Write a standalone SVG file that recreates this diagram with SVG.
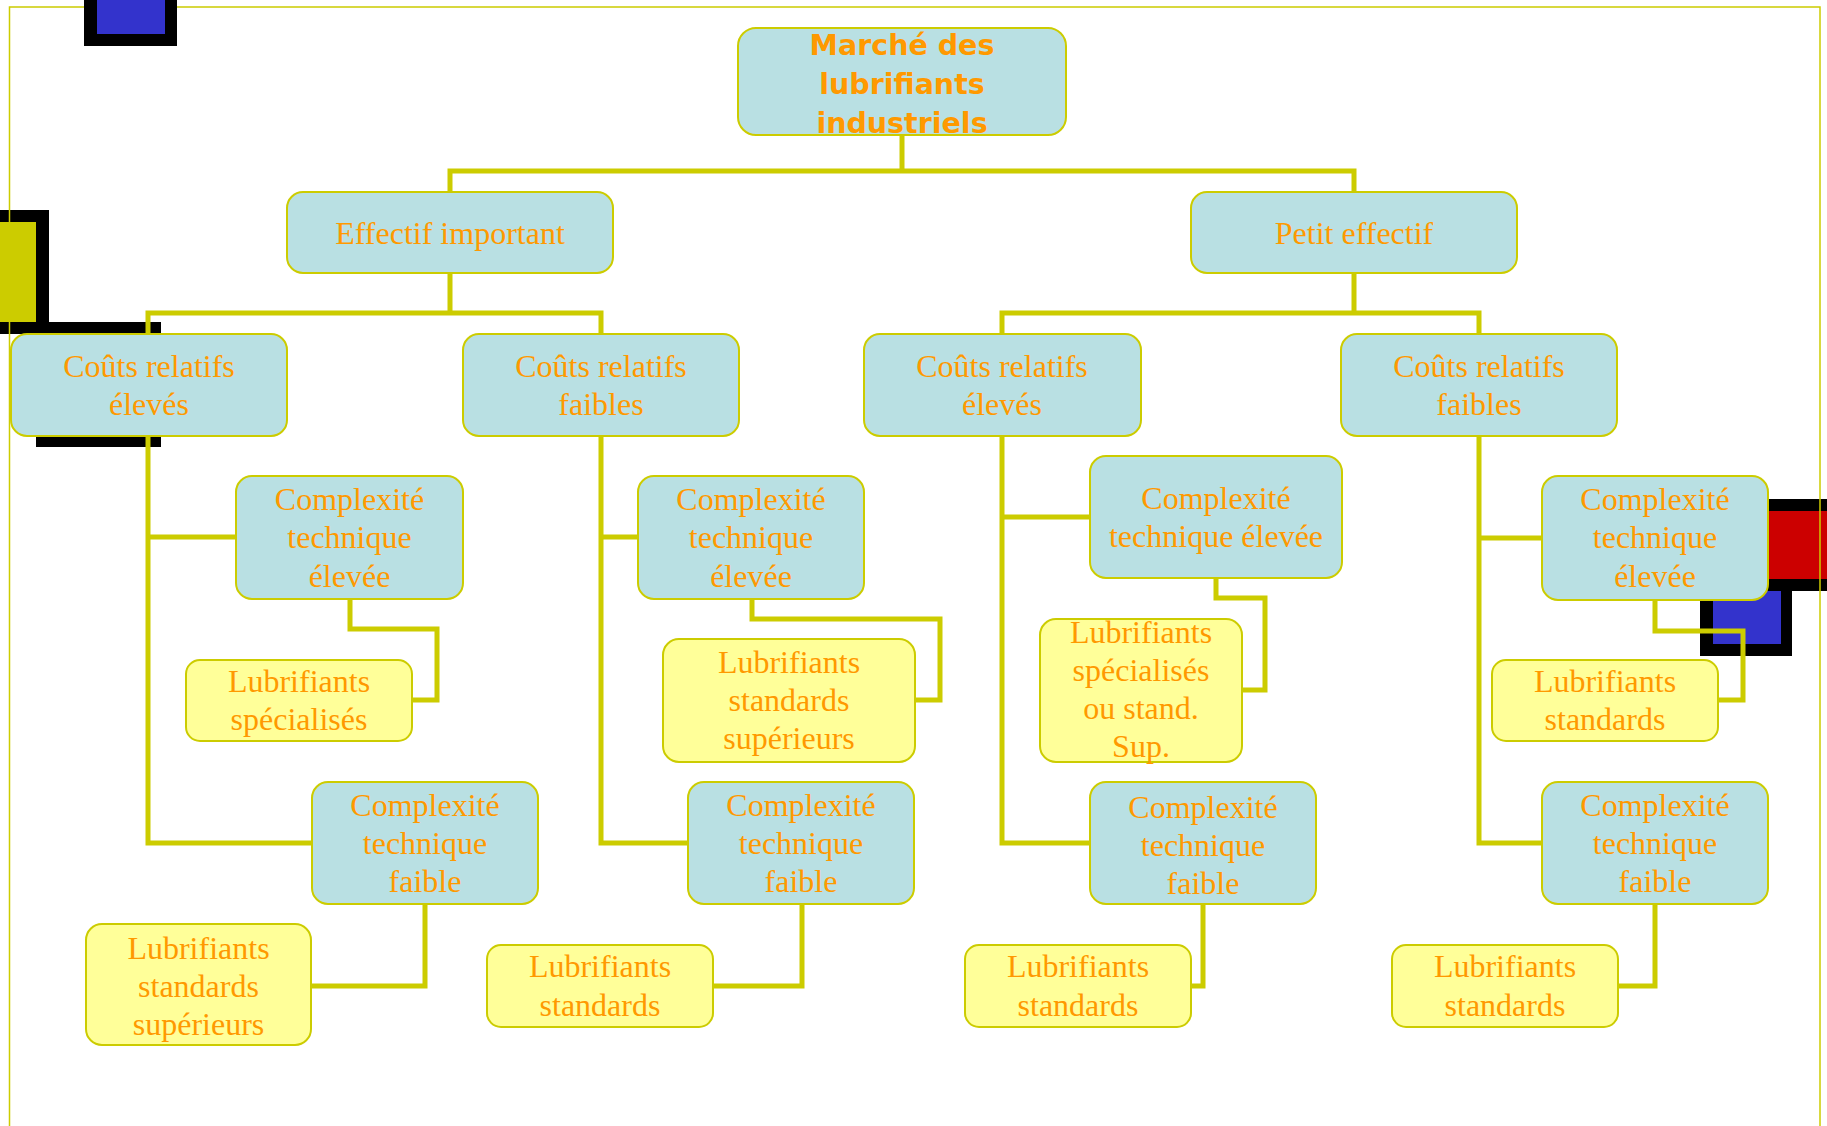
<svg xmlns="http://www.w3.org/2000/svg" width="1827" height="1126" viewBox="0 0 1827 1126">
<style>
.bg{fill:#ffffff}
.blk{fill:#000000}
.olive{fill:#CCCC00}
.red{fill:#CC0000}
.blue{fill:#3333CC}
.frame{fill:none;stroke:#CCCC00;stroke-width:1.5}
.con{fill:none;stroke:#CCCC00;stroke-width:5;stroke-linejoin:miter;stroke-linecap:square}
.nb{fill:#B9E0E3;stroke:#CCCC00;stroke-width:2}
.ny{fill:#FFFF99;stroke:#CCCC00;stroke-width:2}
.t{font-family:"Liberation Serif","Times New Roman",serif;font-size:32px;fill:#FF9900;text-anchor:middle}
.tt{font-family:"DejaVu Sans",Verdana,sans-serif;font-size:28.5px;font-weight:bold;fill:#FF9900;text-anchor:middle}
</style>
<rect class="bg" x="0" y="0" width="1827" height="1126"/>
<g id="decor">
  <rect class="blk" x="-20" y="210" width="69" height="124"/>
  <rect class="olive" x="-20" y="222" width="56" height="100"/>
  <rect class="blk" x="36" y="322" width="125" height="125"/>
  <rect class="blk" x="1700" y="579" width="92" height="77"/>
  <rect class="blue" x="1713" y="591" width="68" height="53"/>
  <rect class="blk" x="1690" y="499" width="160" height="92"/>
  <rect class="red" x="1702" y="511" width="150" height="68"/>
  <rect class="frame" x="9.5" y="7" width="1810.5" height="1200"/>
  <rect class="blk" x="84" y="-20" width="93" height="66"/>
  <rect class="blue" x="97" y="-20" width="68" height="54"/>
</g>
<g id="connectors">
  <path class="con" d="M902,135 V171 M450,191 V171 H1354 V191"/>
  <path class="con" d="M450,273 V313 M148,334 V313 H601 V334"/>
  <path class="con" d="M1354,273 V313 M1002,334 V313 H1479 V334"/>
  <path class="con" d="M148,436 V843 H312 M148,537 H236"/>
  <path class="con" d="M601,436 V843 H688 M601,537 H638"/>
  <path class="con" d="M1002,436 V843 H1090 M1002,517 H1090"/>
  <path class="con" d="M1479,436 V843 H1542 M1479,538 H1542"/>
  <path class="con" d="M350,599 V629 H437 V700 H412"/>
  <path class="con" d="M752,599 V619 H940 V700 H915"/>
  <path class="con" d="M1216,578 V598 H1265 V690 H1242"/>
  <path class="con" d="M1655,600 V631 H1743 V700 H1718"/>
  <path class="con" d="M425,904 V986 H311"/>
  <path class="con" d="M802,904 V986 H713"/>
  <path class="con" d="M1203,904 V986 H1191"/>
  <path class="con" d="M1655,904 V986 H1618"/>
</g>
<g id="root">
  <rect class="nb" x="738" y="28" width="328" height="107" rx="18"/>
  <text class="tt" x="902" y="55">Marché des</text>
  <text class="tt" x="902" y="94">lubrifiants</text>
  <text class="tt" x="902" y="133">industriels</text>
</g>
<g id="effectif-important">
  <rect class="nb" x="287" y="192" width="326" height="81" rx="16"/>
  <text class="t" x="450" y="244">Effectif important</text>
</g>
<g id="petit-effectif">
  <rect class="nb" x="1191" y="192" width="326" height="81" rx="16"/>
  <text class="t" x="1354" y="244">Petit effectif</text>
</g>
<g id="couts-eleves-1">
  <rect class="nb" x="11" y="334" width="276" height="102" rx="16"/>
  <text class="t" x="149" y="377">Coûts relatifs</text>
  <text class="t" x="149" y="415">élevés</text>
</g>
<g id="couts-faibles-1">
  <rect class="nb" x="463" y="334" width="276" height="102" rx="16"/>
  <text class="t" x="601" y="377">Coûts relatifs</text>
  <text class="t" x="601" y="415">faibles</text>
</g>
<g id="couts-eleves-2">
  <rect class="nb" x="864" y="334" width="277" height="102" rx="16"/>
  <text class="t" x="1002" y="377">Coûts relatifs</text>
  <text class="t" x="1002" y="415">élevés</text>
</g>
<g id="couts-faibles-2">
  <rect class="nb" x="1341" y="334" width="276" height="102" rx="16"/>
  <text class="t" x="1479" y="377">Coûts relatifs</text>
  <text class="t" x="1479" y="415">faibles</text>
</g>
<g id="complexite-elevee-1">
  <rect class="nb" x="236" y="476" width="227" height="123" rx="16"/>
  <text class="t" x="349.5" y="510">Complexité</text>
  <text class="t" x="349.5" y="548">technique</text>
  <text class="t" x="349.5" y="587">élevée</text>
</g>
<g id="complexite-elevee-2">
  <rect class="nb" x="638" y="476" width="226" height="123" rx="16"/>
  <text class="t" x="751" y="510">Complexité</text>
  <text class="t" x="751" y="548">technique</text>
  <text class="t" x="751" y="587">élevée</text>
</g>
<g id="complexite-elevee-3">
  <rect class="nb" x="1090" y="456" width="252" height="122" rx="16"/>
  <text class="t" x="1216" y="509">Complexité</text>
  <text class="t" x="1216" y="547">technique élevée</text>
</g>
<g id="complexite-elevee-4">
  <rect class="nb" x="1542" y="476" width="226" height="124" rx="16"/>
  <text class="t" x="1655" y="510">Complexité</text>
  <text class="t" x="1655" y="548">technique</text>
  <text class="t" x="1655" y="587">élevée</text>
</g>
<g id="lub-specialises-1">
  <rect class="ny" x="186" y="660" width="226" height="81" rx="14"/>
  <text class="t" x="299" y="692">Lubrifiants</text>
  <text class="t" x="299" y="730">spécialisés</text>
</g>
<g id="lub-standards-sup-1">
  <rect class="ny" x="663" y="639" width="252" height="123" rx="16"/>
  <text class="t" x="789" y="673">Lubrifiants</text>
  <text class="t" x="789" y="711">standards</text>
  <text class="t" x="789" y="749">supérieurs</text>
</g>
<g id="lub-spec-ou-stand">
  <rect class="ny" x="1040" y="619" width="202" height="143" rx="16"/>
  <text class="t" x="1141" y="643">Lubrifiants</text>
  <text class="t" x="1141" y="681">spécialisés</text>
  <text class="t" x="1141" y="719">ou stand.</text>
  <text class="t" x="1141" y="757">Sup.</text>
</g>
<g id="lub-standards-1">
  <rect class="ny" x="1492" y="660" width="226" height="81" rx="14"/>
  <text class="t" x="1605" y="692">Lubrifiants</text>
  <text class="t" x="1605" y="730">standards</text>
</g>
<g id="complexite-faible-1">
  <rect class="nb" x="312" y="782" width="226" height="122" rx="16"/>
  <text class="t" x="425" y="816">Complexité</text>
  <text class="t" x="425" y="854">technique</text>
  <text class="t" x="425" y="892">faible</text>
</g>
<g id="complexite-faible-2">
  <rect class="nb" x="688" y="782" width="226" height="122" rx="16"/>
  <text class="t" x="801" y="816">Complexité</text>
  <text class="t" x="801" y="854">technique</text>
  <text class="t" x="801" y="892">faible</text>
</g>
<g id="complexite-faible-3">
  <rect class="nb" x="1090" y="782" width="226" height="122" rx="16"/>
  <text class="t" x="1203" y="818">Complexité</text>
  <text class="t" x="1203" y="856">technique</text>
  <text class="t" x="1203" y="894">faible</text>
</g>
<g id="complexite-faible-4">
  <rect class="nb" x="1542" y="782" width="226" height="122" rx="16"/>
  <text class="t" x="1655" y="816">Complexité</text>
  <text class="t" x="1655" y="854">technique</text>
  <text class="t" x="1655" y="892">faible</text>
</g>
<g id="lub-standards-sup-2">
  <rect class="ny" x="86" y="924" width="225" height="121" rx="16"/>
  <text class="t" x="198.5" y="959">Lubrifiants</text>
  <text class="t" x="198.5" y="997">standards</text>
  <text class="t" x="198.5" y="1035">supérieurs</text>
</g>
<g id="lub-standards-2">
  <rect class="ny" x="487" y="945" width="226" height="82" rx="14"/>
  <text class="t" x="600" y="977">Lubrifiants</text>
  <text class="t" x="600" y="1016">standards</text>
</g>
<g id="lub-standards-3">
  <rect class="ny" x="965" y="945" width="226" height="82" rx="14"/>
  <text class="t" x="1078" y="977">Lubrifiants</text>
  <text class="t" x="1078" y="1016">standards</text>
</g>
<g id="lub-standards-4">
  <rect class="ny" x="1392" y="945" width="226" height="82" rx="14"/>
  <text class="t" x="1505" y="977">Lubrifiants</text>
  <text class="t" x="1505" y="1016">standards</text>
</g>
</svg>
